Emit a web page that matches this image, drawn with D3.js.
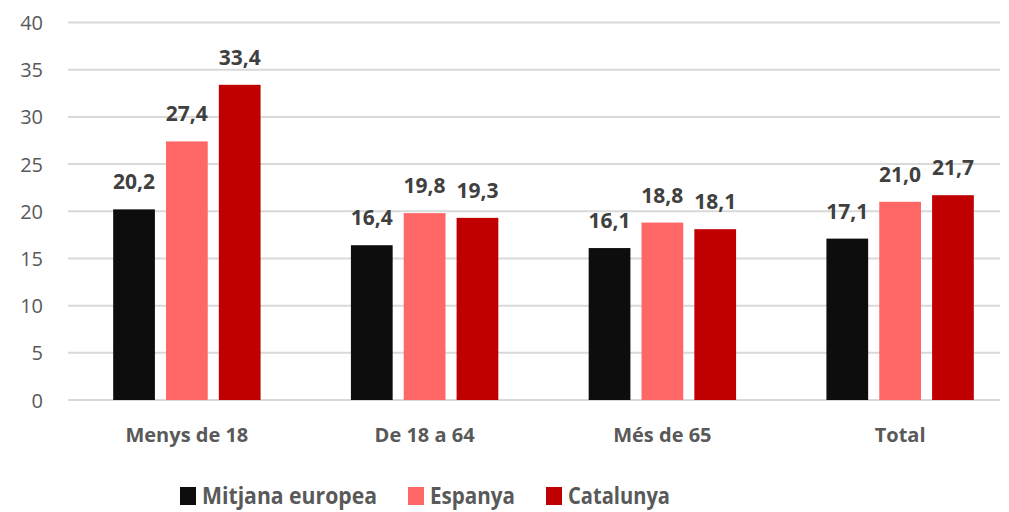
<!DOCTYPE html>
<html lang="ca">
<head>
<meta charset="UTF-8">
<title>Taxa de pobresa</title>
<script src="https://d3js.org/d3.v7.min.js"></script>
<style>
    body { margin: 0; background: #fff; }
    svg text { font-family: "Open Sans", "DejaVu Sans", sans-serif; }
</style>
</head>
<body>
<div id="chart"></div>
<script>
    // data
    const categories = ["Menys de 18", "De 18 a 64", "Més de 65", "Total"];
    const seriesNames = ["Mitjana europea", "Espanya", "Catalunya"];
    const europa = [20.2, 16.4, 16.1, 17.1];
    const espanya = [27.4, 19.8, 18.8, 21.0];
    const catalunya = [33.4, 19.3, 18.1, 21.7];
    const yTicks = [0, 5, 10, 15, 20, 25, 30, 35, 40];
    const colors = ["#0d0d0d", "#ff6666", "#c00000"];

    const W = 1009, H = 512;
    const values = [europa, espanya, catalunya];

    const svg = d3.select("#chart").append("svg")
        .attr("width", W).attr("height", H);

    const x = d3.scaleBand()
        .domain(categories)
        .range([68, 1019])
        .paddingInner(0.38)
        .paddingOuter(0.19);

    const xSub = d3.scaleBand()
        .domain(seriesNames)
        .range([0, x.bandwidth()])
        .paddingInner(0.21);

    const y = d3.scaleLinear().domain([0, 40]).range([400, 22.5]);

    // gridlines
    svg.append("g").selectAll("line")
        .data(yTicks)
        .join("line")
        .attr("x1", 68).attr("x2", 1000)
        .attr("y1", d => y(d)).attr("y2", d => y(d))
        .attr("stroke", "#d9d9d9").attr("stroke-width", 2);

    // y axis labels
    const yAxis = svg.append("g")
        .attr("transform", "translate(43,0)")
        .call(d3.axisLeft(y).tickValues(yTicks).tickSize(0).tickPadding(0));
    yAxis.select(".domain").remove();
    yAxis.selectAll("text")
        .attr("fill", "#595959")
        .style("font-size", "20px")
        .attr("dy", "0.35em");

    // bars
    const groups = svg.append("g").selectAll("g")
        .data(categories)
        .join("g")
        .attr("transform", d => `translate(${x(d)},0)`);

    groups.selectAll("rect")
        .data((c, i) => seriesNames.map((s, j) => ({ s, v: values[j][i], j })))
        .join("rect")
        .attr("x", d => xSub(d.s))
        .attr("width", xSub.bandwidth())
        .attr("y", d => y(d.v))
        .attr("height", d => y(0) - y(d.v))
        .attr("fill", d => colors[d.j]);

    groups.selectAll("text.val")
        .data((c, i) => seriesNames.map((s, j) => ({ s, v: values[j][i], j })))
        .join("text")
        .attr("class", "val")
        .attr("x", d => xSub(d.s) + xSub.bandwidth() / 2)
        .attr("y", d => y(d.v) - 20)
        .attr("text-anchor", "middle")
        .attr("fill", "#404040")
        .style("font-size", "21px")
        .style("font-weight", "bold")
        .text(d => d3.format(".1f")(d.v).replace(".", ","));

    // category labels
    svg.append("g").selectAll("text")
        .data(categories)
        .join("text")
        .attr("x", d => x(d) + x.bandwidth() / 2)
        .attr("y", 442)
        .attr("text-anchor", "middle")
        .attr("fill", "#595959")
        .style("font-size", "20px")
        .style("font-weight", "bold")
        .text(d => d);

    // legend
    const legendX = [180, 408, 546];
    const legendW = [175, 85, 102];
    const legend = svg.append("g").selectAll("g")
        .data(seriesNames)
        .join("g")
        .attr("transform", (d, i) => `translate(${legendX[i]},0)`);
    legend.append("rect")
        .attr("x", 0).attr("y", 487)
        .attr("width", 16).attr("height", 18)
        .attr("fill", (d, i) => colors[i]);
    legend.append("text")
        .attr("x", 22).attr("y", 504)
        .attr("fill", "#595959")
        .style("font-size", "24px")
        .style("font-weight", "bold")
        .attr("textLength", (d, i) => legendW[i])
        .attr("lengthAdjust", "spacingAndGlyphs")
        .text(d => d);
</script>
</body>
</html>
